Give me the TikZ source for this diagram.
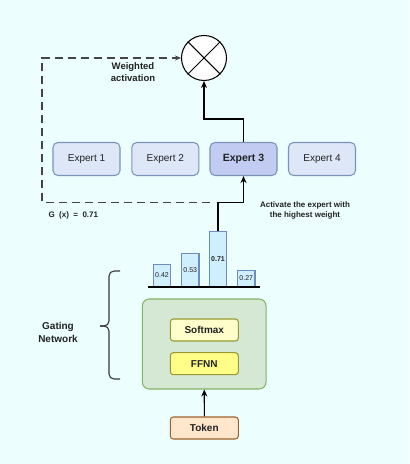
\documentclass[tikz,border=0pt]{standalone}
\usepackage{fontspec}
\setmainfont{Liberation Sans}
\usepackage{tikz}
\usetikzlibrary{arrows.meta, positioning}
\usepackage{xcolor}

\definecolor{bgcyan}{HTML}{ECFEFE}
\definecolor{expfill}{HTML}{DEE7F8}
\definecolor{expdraw}{HTML}{7A93B8}
\definecolor{exphigh}{HTML}{C2CCF2}
\definecolor{barfill}{HTML}{CFEFFC}
\definecolor{bardraw}{HTML}{6C8EBF}
\definecolor{gatefill}{HTML}{D5E8D4}
\definecolor{gatedraw}{HTML}{82B366}
\definecolor{softfill}{HTML}{FFFFCC}
\definecolor{ffnnfill}{HTML}{FFFF88}
\definecolor{yeldraw}{HTML}{999933}
\definecolor{tokfill}{HTML}{FFE6CC}
\definecolor{tokdraw}{HTML}{A0622A}
\definecolor{inkgray}{HTML}{222222}
\definecolor{dashgray}{HTML}{444444}

\newcommand{\fsz}[2]{\fontsize{#1bp}{#2bp}\selectfont}

\tikzset{
    expert/.style={draw=expdraw, fill=expfill, rounded corners=5bp, minimum width=67bp,
        minimum height=33bp, font=\fsz{10}{12}, text=inkgray},
    bar/.style={draw=bardraw, fill=barfill, minimum width=17.4bp, inner sep=0pt,
        anchor=south, font=\fsz{7}{8}, text=inkgray},
    layer/.style={rounded corners=3bp, minimum width=68bp, minimum height=22bp,
        font=\bfseries\fsz{10}{12}, text=inkgray},
    note/.style={font=\bfseries\fsz{8}{10}, text=inkgray, align=center}
}

\begin{document}
\begin{tikzpicture}[x=1bp, y=-1bp, line width=1.05bp, >={Stealth[length=7bp,width=6bp]}]
    % background, fixes the page size
    \fill[bgcyan] (0,0) rectangle (409,464);

    % multiplication node
    \node[draw, fill=white, circle, minimum size=45bp, inner sep=0pt] (mult) at (204,58) {};
    \draw (mult.north west) -- (mult.south east);
    \draw (mult.north east) -- (mult.south west);

    % the experts
    \node[expert] (e1) at (86.5,159) {Expert 1};
    \node[expert] (e2) at (165.3,159) {Expert 2};
    \node[expert, fill=exphigh, font=\bfseries\fsz{10.5}{12}] (e3) at (243.5,159) {Expert 3};
    \node[expert] (e4) at (322,159) {Expert 4};

    % gate weights as bars
    \node[bar, minimum height=21.7bp] (b1) at (162,286.7) {0.42};
    \node[bar, minimum height=32.7bp] (b2) at (190.3,286.7) {0.53};
    \node[bar, minimum height=55bp, font=\bfseries\fsz{7}{8}] (b3) at (218,286.7) {0.71};
    \node[bar, minimum height=15.7bp] (b4) at (246.3,286.7) {0.27};
    \coordinate (axisL) at (148,286.7);
    \coordinate (axisR) at (260,286.7);
    \draw[line width=2.4bp] (axisL) -- (axisR);

    % gating network
    \node[draw=gatedraw, fill=gatefill, rounded corners=7bp, minimum width=123.7bp,
        minimum height=90bp] (gate) at (204.2,344) {};
    \node[layer, draw=yeldraw, fill=softfill] (soft) at (204.3,330) {Softmax};
    \node[layer, draw=yeldraw, fill=ffnnfill] (ffnn) at (204.3,363.7) {FFNN};
    \node[layer, draw=tokdraw, fill=tokfill] (tok) at (204.3,428) {Token};

    % connectors
    \draw[->] (tok) -- (gate);
    \coordinate (lift) at (230,202.5);
    \draw[->] (b3.north) |- (lift) -| (e3.south);
    \coordinate (top) at (220,119);
    \draw[->] (e3.north) |- (top) -| (mult.south);

    % weighted activation (dashed)
    \coordinate (gstart) at (210,202.5);
    \coordinate (gcorner) at (42,58);
    \draw[dashgray, dash pattern=on 8bp off 5bp, -{Stealth[length=6bp,width=5bp]}]
        (gstart) -| (gcorner) -- (mult.west);

    % brace round the gating network
    \draw[inkgray!90, line width=1.1bp, rounded corners=5bp]
        (120,271) -- (109,271) -- (109,326) -- (100,326);
    \draw[inkgray!90, line width=1.1bp, rounded corners=5bp]
        (100,326) -- (109,326) -- (109,379) -- (120,379);

    % labels
    \node[note, font=\bfseries\fsz{9.5}{12.3}] (wlab) at (133,72) {Weighted\\activation};
    \node[note, anchor=west, inner sep=0pt] (glab) at (48,215.7) {G\ \ (x)\ \ =\ \ 0.71};
    \node[note] (alab) at (305,210) {Activate the expert with\\the highest weight};
    \node[note, font=\bfseries\fsz{10}{13}] (nlab) at (58,332.5) {Gating\\Network};
\end{tikzpicture}
\end{document}
